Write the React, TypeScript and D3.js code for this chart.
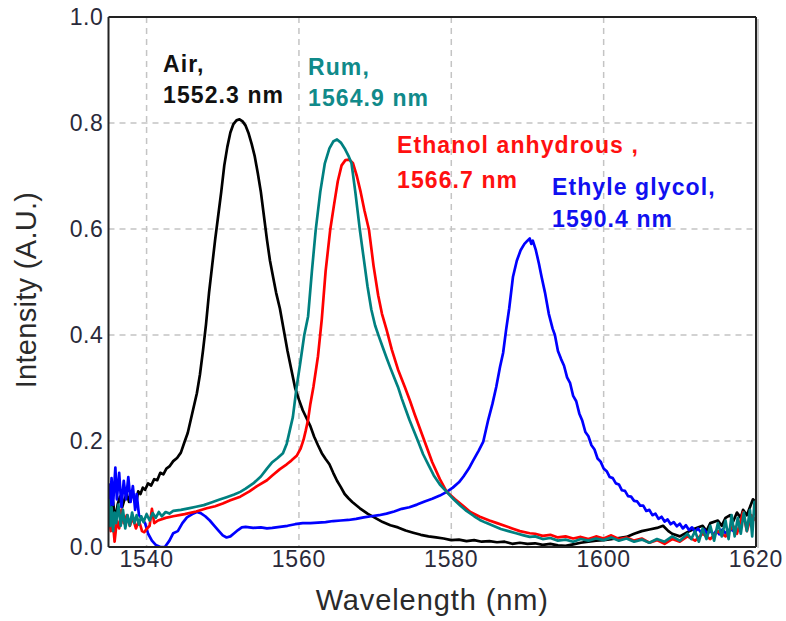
import React from "react";
import * as d3 from "d3";

// [wavelength (nm), intensity (A.U.)]
const airData: [number, number][] = [
  [1535.0, 0.09], [1535.3, 0.06], [1535.6, 0.085], [1535.9, 0.05], [1536.2, 0.08], [1536.5, 0.095],
  [1536.8, 0.075], [1537.1, 0.09], [1537.4, 0.1], [1537.7, 0.085], [1538.0, 0.105], [1538.3, 0.095],
  [1538.6, 0.08], [1538.9, 0.105], [1539.2, 0.1], [1539.5, 0.112], [1539.8, 0.108], [1540.2, 0.12],
  [1540.6, 0.116], [1541.0, 0.128], [1541.4, 0.126], [1541.8, 0.14], [1542.2, 0.137], [1542.6, 0.148],
  [1543.0, 0.152], [1543.5, 0.162], [1544.0, 0.168], [1544.5, 0.178], [1545.0, 0.199], [1545.4, 0.215],
  [1545.8, 0.24], [1546.2, 0.265], [1546.6, 0.29], [1547.0, 0.325], [1547.4, 0.37], [1547.8, 0.42],
  [1548.2, 0.48], [1548.6, 0.53], [1549.0, 0.58], [1549.4, 0.625], [1549.8, 0.67], [1550.2, 0.72],
  [1550.6, 0.755], [1551.0, 0.782], [1551.4, 0.798], [1551.8, 0.805], [1552.2, 0.807], [1552.6, 0.803],
  [1553.0, 0.795], [1553.4, 0.78], [1553.8, 0.76], [1554.2, 0.737], [1554.6, 0.705], [1555.0, 0.67],
  [1555.4, 0.625], [1555.8, 0.58], [1556.2, 0.54], [1556.6, 0.51], [1557.0, 0.48], [1557.5, 0.45],
  [1558.0, 0.41], [1558.5, 0.37], [1559.0, 0.335], [1559.5, 0.3], [1560.0, 0.278], [1560.5, 0.258],
  [1561.0, 0.243], [1561.5, 0.228], [1562.0, 0.208], [1562.5, 0.192], [1563.0, 0.177], [1563.5, 0.166],
  [1564.0, 0.156], [1564.5, 0.14], [1565.0, 0.125], [1565.5, 0.113], [1566.0, 0.1], [1566.5, 0.092],
  [1567.0, 0.085], [1568.0, 0.073], [1569.0, 0.063], [1570.0, 0.055], [1571.0, 0.047], [1572.0, 0.041],
  [1573.0, 0.037], [1574.0, 0.031], [1575.0, 0.027], [1576.0, 0.023], [1577.0, 0.02], [1578.0, 0.018],
  [1579.0, 0.016], [1580.0, 0.013], [1581.0, 0.014], [1582.0, 0.011], [1583.0, 0.013], [1584.0, 0.01],
  [1585.0, 0.011], [1586.0, 0.009], [1587.0, 0.01], [1588.0, 0.006], [1589.0, 0.008], [1590.0, 0.006],
  [1591.0, 0.007], [1592.0, 0.004], [1593.0, 0.006], [1594.0, 0.003], [1595.0, 0.002], [1596.0, 0.005],
  [1597.0, 0.008], [1598.0, 0.01], [1599.0, 0.012], [1600.0, 0.013], [1601.0, 0.015], [1602.0, 0.017],
  [1603.0, 0.019], [1604.0, 0.025], [1605.0, 0.03], [1606.0, 0.033], [1607.0, 0.036], [1607.8, 0.04],
  [1608.5, 0.03], [1609.0, 0.025], [1610.0, 0.02], [1611.0, 0.028], [1612.0, 0.035], [1613.0, 0.04],
  [1613.5, 0.03], [1614.0, 0.045], [1615.0, 0.05], [1615.5, 0.04], [1616.0, 0.055], [1616.6, 0.06],
  [1617.0, 0.048], [1617.5, 0.065], [1618.0, 0.055], [1618.3, 0.07], [1618.8, 0.06], [1619.2, 0.075],
  [1619.6, 0.09], [1620.0, 0.085],
];

const ethyleneData: [number, number][] = [
  [1535.0, 0.12], [1535.2, 0.07], [1535.4, 0.13], [1535.6, 0.08], [1535.9, 0.15], [1536.1, 0.09],
  [1536.4, 0.14], [1536.7, 0.075], [1537.0, 0.125], [1537.3, 0.09], [1537.6, 0.132], [1537.9, 0.085],
  [1538.2, 0.115], [1538.5, 0.07], [1538.7, 0.1], [1539.0, 0.06], [1539.3, 0.055], [1539.8, 0.045],
  [1540.2, 0.025], [1540.7, 0.012], [1541.2, 0.004], [1541.8, 0.0], [1542.4, 0.0], [1543.0, 0.012],
  [1543.5, 0.026], [1544.1, 0.03], [1544.7, 0.045], [1545.3, 0.056], [1546.0, 0.062], [1546.6, 0.066],
  [1547.1, 0.064], [1547.7, 0.058], [1548.3, 0.05], [1548.9, 0.04], [1549.5, 0.03], [1550.0, 0.022],
  [1550.5, 0.018], [1551.0, 0.02], [1551.5, 0.026], [1552.0, 0.032], [1552.5, 0.037], [1553.0, 0.038],
  [1554.0, 0.036], [1555.0, 0.037], [1555.8, 0.035], [1556.5, 0.036], [1557.5, 0.038], [1558.5, 0.04],
  [1559.5, 0.043], [1560.5, 0.045], [1561.5, 0.045], [1562.5, 0.046], [1563.5, 0.047], [1564.5, 0.049],
  [1565.5, 0.05], [1566.5, 0.051], [1567.5, 0.053], [1568.5, 0.056], [1569.5, 0.058], [1570.5, 0.06],
  [1571.5, 0.063], [1572.5, 0.067], [1573.5, 0.072], [1574.5, 0.075], [1575.5, 0.08], [1576.5, 0.086],
  [1577.5, 0.091], [1578.5, 0.097], [1579.4, 0.104], [1580.2, 0.112], [1581.0, 0.122], [1581.6, 0.133],
  [1582.3, 0.148], [1582.9, 0.164], [1583.6, 0.182], [1584.2, 0.199], [1584.85, 0.24], [1585.4, 0.27],
  [1585.9, 0.302], [1586.4, 0.34], [1586.8, 0.366], [1587.2, 0.41], [1587.6, 0.45], [1588.1, 0.51],
  [1588.6, 0.54], [1589.1, 0.56], [1589.6, 0.572], [1590.0, 0.578], [1590.3, 0.582], [1590.5, 0.572],
  [1590.7, 0.578], [1591.1, 0.56], [1591.5, 0.535], [1591.85, 0.51], [1592.3, 0.48], [1592.8, 0.44],
  [1593.3, 0.412], [1593.6, 0.4], [1594.0, 0.37], [1594.4, 0.355], [1594.8, 0.342], [1595.2, 0.32],
  [1595.6, 0.309], [1596.0, 0.285], [1596.4, 0.275], [1596.8, 0.252], [1597.2, 0.238], [1597.6, 0.217],
  [1598.0, 0.209], [1598.4, 0.192], [1598.8, 0.184], [1599.2, 0.167], [1599.6, 0.161], [1600.0, 0.148],
  [1600.4, 0.143], [1600.8, 0.132], [1601.2, 0.13], [1601.6, 0.12], [1602.0, 0.118], [1602.4, 0.107],
  [1602.8, 0.106], [1603.2, 0.096], [1603.6, 0.095], [1604.0, 0.087], [1604.4, 0.086], [1604.8, 0.078],
  [1605.2, 0.078], [1605.6, 0.068], [1606.0, 0.07], [1606.4, 0.06], [1606.8, 0.063], [1607.2, 0.053],
  [1607.6, 0.057], [1608.0, 0.048], [1608.4, 0.052], [1608.8, 0.043], [1609.2, 0.047], [1609.6, 0.039],
  [1610.0, 0.044], [1610.4, 0.035], [1610.8, 0.041], [1611.2, 0.032], [1611.6, 0.037], [1612.0, 0.029],
  [1612.4, 0.035], [1612.8, 0.027], [1613.2, 0.033], [1613.6, 0.025], [1614.0, 0.031], [1614.4, 0.023],
  [1614.8, 0.031], [1615.2, 0.024], [1615.6, 0.033], [1616.0, 0.026], [1616.6, 0.034], [1617.3, 0.028],
];

const ethanolData: [number, number][] = [
  [1535.0, 0.07], [1535.3, 0.03], [1535.5, 0.06], [1535.8, 0.01], [1536.1, 0.05], [1536.4, 0.035],
  [1536.7, 0.07], [1537.0, 0.045], [1537.4, 0.06], [1537.8, 0.04], [1538.2, 0.055], [1538.6, 0.035],
  [1539.0, 0.05], [1539.4, 0.03], [1539.7, 0.028], [1540.0, 0.034], [1540.4, 0.04], [1540.7, 0.072],
  [1541.0, 0.045], [1541.5, 0.05], [1542.5, 0.055], [1543.5, 0.058], [1545.0, 0.062], [1546.5, 0.067],
  [1547.9, 0.073], [1549.0, 0.077], [1550.0, 0.082], [1551.0, 0.088], [1552.3, 0.095], [1553.5, 0.105],
  [1554.5, 0.115], [1555.8, 0.126], [1556.5, 0.135], [1557.5, 0.147], [1558.4, 0.156], [1559.0, 0.163],
  [1559.7, 0.172], [1560.2, 0.185], [1560.6, 0.202], [1560.9, 0.22], [1561.2, 0.24], [1561.5, 0.27],
  [1561.9, 0.302], [1562.5, 0.36], [1563.0, 0.43], [1563.5, 0.52], [1564.1, 0.598], [1564.6, 0.645],
  [1565.1, 0.69], [1565.6, 0.72], [1566.1, 0.73], [1566.6, 0.731], [1567.1, 0.724], [1567.6, 0.7],
  [1568.1, 0.67], [1568.6, 0.635], [1569.2, 0.598], [1569.8, 0.53], [1570.4, 0.475], [1570.9, 0.44],
  [1571.5, 0.41], [1572.2, 0.372], [1573.0, 0.335], [1573.9, 0.302], [1574.6, 0.275], [1575.2, 0.25],
  [1576.5, 0.199], [1577.5, 0.16], [1578.5, 0.128], [1579.4, 0.104], [1580.5, 0.09], [1581.5, 0.078],
  [1582.5, 0.066], [1583.75, 0.057], [1585.0, 0.05], [1586.0, 0.045], [1587.0, 0.04], [1588.0, 0.035],
  [1589.0, 0.03], [1590.3, 0.026], [1591.0, 0.025], [1592.0, 0.021], [1593.0, 0.023], [1594.0, 0.018],
  [1595.0, 0.02], [1596.0, 0.016], [1597.0, 0.019], [1598.0, 0.015], [1599.0, 0.02], [1600.0, 0.016],
  [1601.0, 0.022], [1602.0, 0.015], [1603.0, 0.018], [1604.0, 0.012], [1605.0, 0.016], [1606.0, 0.008],
  [1607.0, 0.013], [1608.0, 0.006], [1609.0, 0.015], [1610.0, 0.01], [1611.0, 0.02], [1612.0, 0.012],
  [1613.0, 0.025], [1614.0, 0.015], [1615.0, 0.03], [1616.0, 0.02], [1617.0, 0.04], [1617.5, 0.025],
  [1618.3, 0.066], [1618.8, 0.03], [1619.4, 0.06], [1620.0, 0.05],
];

const rumData: [number, number][] = [
  [1535.0, 0.09], [1535.2, 0.04], [1535.4, 0.075], [1535.6, 0.03], [1535.8, 0.065], [1536.0, 0.045],
  [1536.3, 0.08], [1536.6, 0.04], [1536.9, 0.07], [1537.2, 0.035], [1537.5, 0.06], [1537.8, 0.04],
  [1538.1, 0.065], [1538.4, 0.045], [1538.7, 0.06], [1539.0, 0.042], [1539.3, 0.058], [1539.6, 0.047],
  [1540.0, 0.062], [1540.4, 0.05], [1540.8, 0.064], [1541.2, 0.055], [1541.6, 0.066], [1542.0, 0.058],
  [1542.5, 0.066], [1543.0, 0.063], [1543.5, 0.068], [1544.5, 0.07], [1545.5, 0.073], [1546.5, 0.076],
  [1547.5, 0.079], [1548.5, 0.084], [1549.5, 0.089], [1550.5, 0.094], [1551.5, 0.099], [1552.3, 0.104],
  [1553.0, 0.11], [1554.0, 0.12], [1555.0, 0.133], [1555.8, 0.148], [1556.5, 0.16], [1557.2, 0.168],
  [1557.9, 0.177], [1558.4, 0.195], [1558.8, 0.22], [1559.2, 0.245], [1559.7, 0.302], [1560.2, 0.35],
  [1560.7, 0.4], [1561.2, 0.435], [1561.7, 0.52], [1562.2, 0.598], [1562.8, 0.67], [1563.4, 0.724],
  [1564.0, 0.752], [1564.5, 0.765], [1565.0, 0.769], [1565.5, 0.763], [1566.0, 0.752], [1566.5, 0.738],
  [1566.9, 0.724], [1567.4, 0.67], [1568.0, 0.598], [1568.5, 0.545], [1569.0, 0.492], [1569.5, 0.448],
  [1570.0, 0.418], [1570.5, 0.397], [1571.0, 0.377], [1571.5, 0.357], [1572.0, 0.338], [1572.5, 0.32],
  [1573.0, 0.302], [1573.5, 0.28], [1574.0, 0.26], [1574.5, 0.24], [1575.0, 0.222], [1575.65, 0.199],
  [1576.3, 0.175], [1577.0, 0.155], [1577.7, 0.135], [1578.5, 0.118], [1579.4, 0.104], [1580.3, 0.09],
  [1581.2, 0.078], [1582.0, 0.068], [1583.0, 0.058], [1583.75, 0.051], [1584.5, 0.046], [1585.5, 0.04],
  [1586.5, 0.034], [1587.5, 0.03], [1588.5, 0.026], [1589.5, 0.022], [1590.3, 0.019], [1591.0, 0.02],
  [1592.0, 0.015], [1593.0, 0.017], [1594.0, 0.012], [1595.0, 0.014], [1596.0, 0.01], [1597.0, 0.015],
  [1598.0, 0.012], [1599.0, 0.016], [1600.0, 0.013], [1601.0, 0.018], [1602.0, 0.012], [1603.0, 0.016],
  [1604.0, 0.01], [1605.0, 0.014], [1606.0, 0.008], [1607.0, 0.015], [1608.0, 0.01], [1609.0, 0.02],
  [1610.0, 0.012], [1611.0, 0.025], [1611.5, 0.015], [1612.0, 0.03], [1612.5, 0.01], [1613.0, 0.035],
  [1613.5, 0.015], [1614.0, 0.04], [1614.5, 0.012], [1615.0, 0.045], [1615.5, 0.02], [1616.0, 0.05],
  [1616.4, 0.015], [1616.8, 0.06], [1617.2, 0.02], [1617.6, 0.055], [1618.0, 0.025], [1618.4, 0.065],
  [1618.8, 0.03], [1619.2, 0.07], [1619.5, 0.02], [1619.8, 0.085], [1620.0, 0.06],
];

const seriesNames = ["Air", "Ethyle glycol", "Ethanol anhydrous", "Rum"];
const seriesColors = ["#000000", "#0000ff", "#ff0000", "#008080"];
const seriesData = [airData, ethyleneData, ethanolData, rumData];

const xTicks = [1540, 1560, 1580, 1600, 1620];
const yTicks = [0.0, 0.2, 0.4, 0.6, 0.8, 1.0];
const xGrid = [1540, 1560, 1580, 1600];
const yGrid = [0.2, 0.4, 0.6, 0.8];

const annotationLines = [
  ["Air,", "1552.3 nm"],
  ["Rum,", "1564.9 nm"],
  ["Ethanol anhydrous ,", "1566.7 nm"],
  ["Ethyle glycol,", "1590.4 nm"],
];
const annotationColors = ["#111111", "#108a8a", "#ff1010", "#1010f0"];

const W = 786;
const H = 621;
const left = 108.5;
const right = 756;
const top = 17;
const bottom = 547;
// annotation placement (pixels): left x, baseline of line 1, baseline of line 2
const annotationPos = [
  [163, 72, 103],
  [308, 75, 106],
  [397, 153, 188],
  [552, 195, 227],
];

export default function App() {
  const x = d3.scaleLinear().domain([1535, 1620]).range([left, right]);
  const y = d3.scaleLinear().domain([0, 1]).range([bottom, top]);
  const line = d3
    .line<[number, number]>()
    .x((d) => x(d[0]))
    .y((d) => y(d[1]));
  const font = "Arial, 'Liberation Sans', sans-serif";

  return (
    <svg
      width={W}
      height={H}
      style={{ position: "absolute", left: 0, top: 0, background: "#fff" }}
    >
      <defs>
        <clipPath id="plotClip">
          <rect x={left} y={top - 2} width={right - left} height={bottom - top + 2} />
        </clipPath>
      </defs>
      {/* grid */}
      {xGrid.map((t) => (
        <line key={"gx" + t} x1={x(t)} x2={x(t)} y1={top} y2={bottom}
          stroke="#c4c4c4" strokeWidth={1.5} strokeDasharray="6,5" />
      ))}
      {yGrid.map((t) => (
        <line key={"gy" + t} x1={left} x2={right} y1={y(t)} y2={y(t)}
          stroke="#c4c4c4" strokeWidth={1.5} strokeDasharray="6,5" />
      ))}
      {/* series */}
      <g clipPath="url(#plotClip)">
        {seriesData.map((d, i) => (
          <path key={seriesNames[i]} d={line(d) || ""} fill="none"
            stroke={seriesColors[i]} strokeWidth={2.7} strokeLinejoin="round" />
        ))}
      </g>
      {/* frame */}
      <line x1={left} x2={right} y1={top} y2={top} stroke="#222" strokeWidth={2} />
      <line x1={right} x2={right} y1={top} y2={bottom} stroke="#222" strokeWidth={2} />
      <line x1={right + 2} x2={right + 2} y1={top + 2} y2={bottom + 1} stroke="#bbb" strokeWidth={1.5} />
      <line x1={left} x2={left} y1={top} y2={bottom} stroke="#222" strokeWidth={2} />
      <line x1={left} x2={right} y1={bottom} y2={bottom} stroke="#222" strokeWidth={2} />
      {/* tick labels */}
      {yTicks.map((t) => (
        <text key={"ty" + t} x={left - 5} y={y(t)} dy="0.35em" textAnchor="end"
          fontFamily={font} fontSize={23} letterSpacing={0.6} fill="#2a2a3a">{t.toFixed(1)}</text>
      ))}
      {xTicks.map((t) => (
        <text key={"tx" + t} x={x(t)} y={567} textAnchor="middle"
          fontFamily={font} fontSize={23} letterSpacing={0.8} fill="#2a2a3a">{t}</text>
      ))}
      {/* axis titles */}
      <text x={(left + right) / 2} y={610} textAnchor="middle" fontFamily={font}
        fontSize={29} letterSpacing={0.9} fill="#2a2a2a">Wavelength (nm)</text>
      <text transform={`translate(36, 290) rotate(-90)`} textAnchor="middle" fontFamily={font}
        fontSize={29} letterSpacing={0.3} fill="#2a2a2a">Intensity (A.U.)</text>
      {/* annotations */}
      {annotationLines.map((lines, i) => (
        <g key={lines[0]}>
          {lines.map((s, j) => (
            <text key={s} x={annotationPos[i][0]} y={annotationPos[i][j + 1]} fontFamily={font}
              fontWeight="bold" fontSize={23} letterSpacing={1.1} fill={annotationColors[i]}>{s}</text>
          ))}
        </g>
      ))}
    </svg>
  );
}
